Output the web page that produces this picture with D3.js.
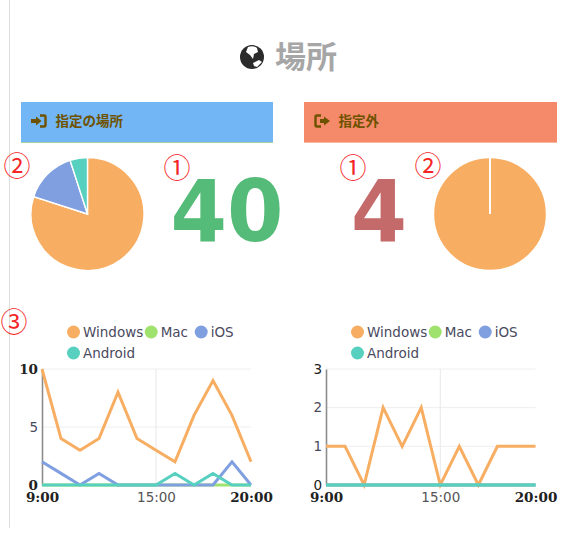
<!DOCTYPE html>
<html>
<head>
<meta charset="utf-8">
<script src="https://cdn.jsdelivr.net/npm/d3@7"></script>
<style>
html,body{margin:0;padding:0;background:#fff;}
svg{display:block;}
.jp{font-family:"Noto Sans CJK JP";}
</style>
</head>
<body>
<div id="plot"></div>
<script>
const os = ['Windows', 'Mac', 'iOS', 'Android'];
const osColors = ['#f8ae62', '#9fe26e', '#7f9fe0', '#58d0c0'];
const hours = ['9:00','10:00','11:00','12:00','13:00','14:00','15:00','16:00','17:00','18:00','19:00','20:00'];

const insideCount = 40;
const outsideCount = 4;
const insidePie = [32, 0, 6, 2];
const outsidePie = [4, 0, 0, 0];

const insideWindows = [10,4,3,4,8,4,3,2,6,9,6,2];
const insideMac     = [0,0,0,0,0,0,0,0,0,0,0,0];
const insideIos     = [2,1,0,1,0,0,0,0,0,0,2,0];
const insideAndroid = [0,0,0,0,0,0,0,1,0,1,0,0];

const outsideWindows = [1,1,0,2,1,2,0,1,0,1,1,1];
const outsideMac     = [0,0,0,0,0,0,0,0,0,0,0,0];
const outsideIos     = [0,0,0,0,0,0,0,0,0,0,0,0];
const outsideAndroid = [0,0,0,0,0,0,0,0,0,0,0,0];

let svg = d3.select('#plot').append('svg').attr('width',563).attr('height',546);

// page rule
svg.append('line').attr('x1',9.5).attr('x2',9.5).attr('y1',0).attr('y2',528)
    .attr('stroke','#dcdcdc');

// title
let globe = svg.append('g').attr('transform','translate(252,57)');
globe.append('circle').attr('r',12).attr('fill','#2b2b2b');
globe.append('path').attr('d','M-4,-10 Q1,-12 5,-9 L6,-5 L2,-3 L1,2 L-2,-2 L-6,-5 Z').attr('fill','#fff');
globe.append('path').attr('d','M1,6 L7,3 L10,5 L5,10 L2,9 Z').attr('fill','#fff');
svg.append('text').attr('class','jp').attr('x',275).attr('y',68)
    .attr('font-size',31).attr('font-weight',700).attr('fill','#a6a6a6').text('場所');

// banners
function banner(x, w, color, edge, label, icon){
    svg.append('rect').attr('x',x).attr('y',102).attr('width',w).attr('height',41).attr('fill',color);
    svg.append('rect').attr('x',x).attr('y',142).attr('width',w).attr('height',1).attr('fill',edge);
    let g = svg.append('g').attr('transform',`translate(${x+10},121)`)
        .attr('fill','none').attr('stroke','#6f5200').attr('stroke-width',2.4);
    icon(g);
    svg.append('text').attr('class','jp').attr('x',x+34.5).attr('y',126)
        .attr('font-size',13.5).attr('font-weight',700).attr('fill','#6f5200').text(label);
}
banner(21, 252, '#72b6f5', '#a5cfa0', '指定の場所', g => {
    g.append('path').attr('d','M9,-5.5 H13 Q14.5,-5.5 14.5,-4 V4 Q14.5,5.5 13,5.5 H9');
    g.append('path').attr('d','M0,-2 H5 V-4.5 L10.5,0 L5,4.5 V2 H0 Z').attr('fill','#6f5200').attr('stroke','none');
});
banner(304, 253, '#f48a69', '#f6b9a0', '指定外', g => {
    g.append('path').attr('d','M7,-5.5 H3 Q1.5,-5.5 1.5,-4 V4 Q1.5,5.5 3,5.5 H7');
    g.append('path').attr('d','M6,-2 H10 V-4.5 L16,0 L10,4.5 V2 H6 Z').attr('fill','#6f5200').attr('stroke','none');
});

// pies
let pie = d3.pie().sort(null);
let arc = d3.arc().innerRadius(0).outerRadius(56.5);
function drawPie(cx, values){
    svg.append('g').attr('transform',`translate(${cx},214)`)
        .selectAll('path')
        .data(pie(values))
        .join('path')
            .attr('d',arc)
            .attr('fill',(d,i) => osColors[i])
            .attr('stroke','#fff')
            .attr('stroke-width',1.4);
}
drawPie(87.5, insidePie);
drawPie(490, outsidePie);

// big numbers
function bigNumber(x, value, color, len){
    svg.append('text').attr('x',x).attr('y',241).attr('text-anchor','middle')
        .attr('font-family','DejaVu Sans').attr('font-weight',700).attr('font-size',86)
        .attr('textLength',len).attr('lengthAdjust','spacingAndGlyphs')
        .attr('fill',color).text(value);
}
bigNumber(227, insideCount, '#55bb78', 113);
bigNumber(379, outsideCount, '#c56a6a', 56);

// red markers
[['②',17,167],['①',177,169],['①',353,169],['②',428,167],['③',14,323]].forEach(m => {
    svg.append('text').attr('class','jp').attr('x',m[1]).attr('y',m[2]+9)
        .attr('text-anchor','middle').attr('font-size',27).attr('fill','#f52525').text(m[0]);
});

// line charts
function lineChart(x0, x1, yMax, yTicks, series, legendX, yBold){
    let x = d3.scalePoint().domain(hours).range([x0, x1]);
    let y = d3.scaleLinear().domain([0,yMax]).range([485,369]);

    // grid
    svg.append('g').selectAll('line').data(yTicks).join('line')
        .attr('x1',x0).attr('x2',x1)
        .attr('y1',d => y(d)).attr('y2',d => y(d))
        .attr('stroke','#eeeeee').attr('stroke-width',1);
    svg.append('line').attr('x1',x('15:00')).attr('x2',x('15:00')).attr('y1',369).attr('y2',485)
        .attr('stroke','#e8e8e8');

    let yAxis = d3.axisLeft(y).tickValues(yTicks).tickSize(0).tickPadding(4).tickFormat(d3.format('d'));
    let yG = svg.append('g').attr('transform',`translate(${x0},0)`).call(yAxis);
    yG.select('.domain').attr('stroke','#8c8c8c').attr('stroke-width',1.6);
    yG.selectAll('text')
        .attr('font-family','DejaVu Sans')
        .attr('font-size',13.5)
        .attr('fill',d => (d === 0 || d === yMax) ? '#222' : '#4a4a5e');
    if(yBold){
        yG.selectAll('text').filter(d => d === 0 || d === yMax)
            .attr('font-family','DejaVu Serif').attr('font-weight',700);
    }

    let xAxis = d3.axisBottom(x).tickValues(['9:00','15:00','20:00']).tickSize(0).tickPadding(7);
    let xG = svg.append('g').attr('transform','translate(0,485)').call(xAxis);
    xG.select('.domain').remove();
    xG.selectAll('text')
        .attr('font-family',d => d === '15:00' ? 'DejaVu Sans' : 'DejaVu Serif')
        .attr('font-weight',d => d === '15:00' ? 400 : 700)
        .attr('font-size',13.5)
        .attr('fill',d => d === '15:00' ? '#555' : '#222');

    let line = d3.line().x((d,i) => x(hours[i])).y(d => y(d));
    svg.append('g').selectAll('path').data(series).join('path')
        .attr('d',line)
        .attr('fill','none')
        .attr('stroke',(d,i) => osColors[i])
        .attr('stroke-width',3);

    // legend
    let items = [[0,332],[77.7,332],[127.7,332],[0,353]];
    os.forEach((name,i) => {
        svg.append('circle').attr('cx',legendX+items[i][0]).attr('cy',items[i][1]).attr('r',6.5).attr('fill',osColors[i]);
        svg.append('text').attr('x',legendX+items[i][0]+9.5).attr('y',items[i][1]+5)
            .attr('font-family','DejaVu Sans').attr('font-size',13.5).attr('fill','#4a4a5e').text(name);
    });
}

lineChart(42, 251, 10, [0,5,10], [insideWindows, insideMac, insideIos, insideAndroid], 73.5, true);
lineChart(326, 535.5, 3, [0,1,2,3], [outsideWindows, outsideMac, outsideIos, outsideAndroid], 357.5, false);
</script>
</body>
</html>
